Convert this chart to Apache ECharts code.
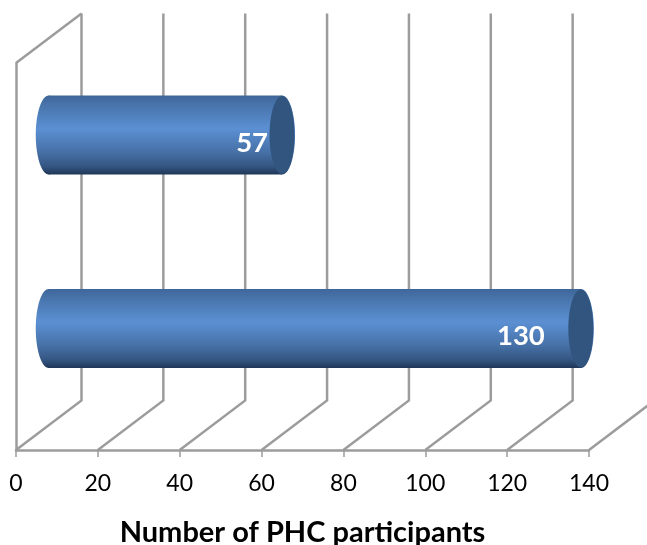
<!DOCTYPE html>
<html>
<head>
<meta charset="utf-8">
<style>html,body{margin:0;padding:0;background:#fff}#c{width:647px;height:545px}</style>
<script src="https://cdn.jsdelivr.net/npm/echarts@6/dist/echarts.min.js"></script>
</head>
<body>
<div id="c"></div>
<script>
const categories = ['Group B', 'Group A'];
const participants = [130, 57];
const tickValues = [0, 20, 40, 60, 80, 100, 120, 140];
const axisTitle = 'Number of PHC participants';

const DEPTH_X = 65.5, DEPTH_Y = 49.5;
const BAR_H = 79, CAP_RX = 13;
const LABEL_INSET = [36, 14];
const GRID = '#9c9c9c';
const FONT = 'Lato, "Open Sans", sans-serif';

const chart = echarts.init(document.getElementById('c'), null, {renderer: 'canvas'});

function bodyFill() {
  return new echarts.graphic.LinearGradient(0, 0, 0, 1, [
    {offset: 0, color: '#3f6699'},
    {offset: 0.12, color: '#4874ab'},
    {offset: 0.42, color: '#5b90d3'},
    {offset: 0.72, color: '#4670a6'},
    {offset: 0.9, color: '#345581'},
    {offset: 1, color: '#1f3656'}
  ]);
}

chart.setOption({
  animation: false,
  backgroundColor: '#fff',
  grid: {left: 16, right: 58, top: 63, bottom: 95, containLabel: false, outerBoundsMode: 'none'},
  xAxis: {
    type: 'value', min: 0, max: 140, interval: 20,
    axisLine: {show: true, lineStyle: {color: GRID, width: 2.5}},
    axisTick: {show: true, length: 7, lineStyle: {color: GRID, width: 1.5}},
    splitLine: {show: false},
    axisLabel: {
      color: '#000', fontFamily: FONT, fontSize: 23, margin: 22,
      hideOverlap: false, showMinLabel: true, showMaxLabel: true
    },
    name: axisTitle, nameLocation: 'middle', nameGap: 68,
    nameTextStyle: {color: '#000', fontFamily: FONT, fontWeight: 'bold', fontSize: 29}
  },
  yAxis: {
    type: 'category', data: categories,
    axisLine: {show: true, lineStyle: {color: GRID, width: 2.5}},
    axisTick: {show: false}, axisLabel: {show: false}, splitLine: {show: false}
  },
  series: [
    {
      type: 'custom', silent: true, z: 1,
      data: tickValues.map(v => [v]),
      encode: {x: 0},
      renderItem(params, api) {
        const v = api.value(0);
        const cs = params.coordSys;
        const x = api.coord([v, 0])[0];
        const y = cs.y + cs.height;
        const style = {stroke: GRID, lineWidth: 2.5, fill: null};
        const children = [{
          type: 'polyline',
          shape: {points: [[x, y], [x + DEPTH_X, y - DEPTH_Y], [x + DEPTH_X, cs.y - DEPTH_Y]]},
          style
        }];
        if (v === 0) {
          children.push({
            type: 'line',
            shape: {x1: x, y1: cs.y, x2: x + DEPTH_X, y2: cs.y - DEPTH_Y},
            style
          });
        }
        return {type: 'group', children};
      }
    },
    {
      type: 'custom', silent: true, z: 3,
      data: participants.map((v, i) => [v, i]),
      encode: {x: 0, y: 1},
      renderItem(params, api) {
        const v = api.value(0), i = api.value(1);
        const p0 = api.coord([0, i]), p1 = api.coord([v, i]);
        const dx = DEPTH_X / 2, dy = DEPTH_Y / 2;
        const cy = p0[1] - dy;
        const x0 = p0[0] + dx, x1 = p1[0] + dx;
        const top = cy - BAR_H / 2;
        return {
          type: 'group',
          children: [
            {type: 'ellipse', shape: {cx: x0, cy, rx: CAP_RX, ry: BAR_H / 2}, style: {fill: bodyFill()}},
            {type: 'ellipse', shape: {cx: x1, cy, rx: CAP_RX, ry: BAR_H / 2}, style: {fill: bodyFill()}},
            {type: 'rect', shape: {x: x0, y: top, width: x1 - x0, height: BAR_H}, style: {fill: bodyFill()}},
            {type: 'ellipse', shape: {cx: x1, cy, rx: CAP_RX - 0.5, ry: BAR_H / 2 - 0.5}, style: {fill: '#325580'}},
            {type: 'text', z2: 10, style: {
              text: String(v), x: x1 - LABEL_INSET[i], y: cy + 8,
              fill: '#fff', font: 'bold 27.5px ' + FONT,
              align: 'right', verticalAlign: 'middle'
            }}
          ]
        };
      }
    }
  ]
});
</script>
</body>
</html>
